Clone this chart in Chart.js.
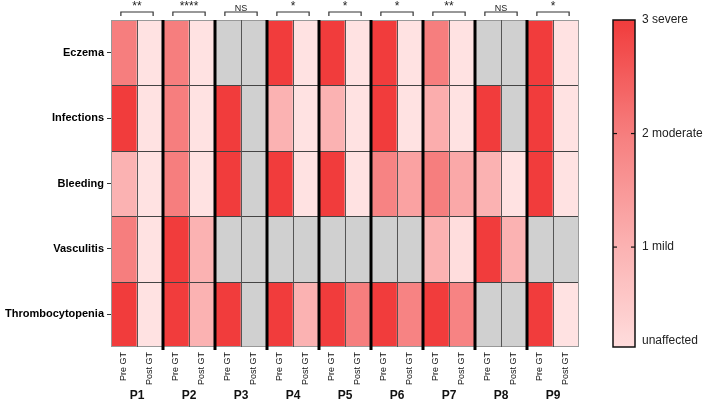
<!DOCTYPE html>
<html>
<head>
<meta charset="utf-8">
<script src="https://cdn.jsdelivr.net/npm/chart.js@4"></script>
<style>
  html, body { margin: 0; padding: 0; background: #fff; }
  canvas { display: block; }
</style>
</head>
<body>
<canvas id="heatmap" width="706" height="404"></canvas>
<script>
// rows = symptoms, columns = Pre/Post GT per patient
const symptoms = ['Eczema', 'Infections', 'Bleeding', 'Vasculitis', 'Thrombocytopenia'];
const patients = ['P1', 'P2', 'P3', 'P4', 'P5', 'P6', 'P7', 'P8', 'P9'];
const columnLabels = patients.flatMap(() => ['Pre GT', 'Post GT']);
const significance = ['**', '****', 'NS', '*', '*', '*', '**', 'NS', '*'];

// severity 0 = unaffected .. 3 = severe, null = not available (grey)
const eczema =           [2, 0, 2, 0, null, null, 3, 0, 3, 0, 3, 0, 2, 0, null, null, 3, 0];
const infections =       [3, 0, 2, 0, 3, null, 1, 0, 1, 0, 3, 0, 1.1, 0, 3, null, 3, 0];
const bleeding =         [1, 0, 2, 0, 3, null, 3, 0, 3, 0, 1.9, 1.3, 2, 1.2, 1, 0, 3, 0];
const vasculitis =       [2, 0, 3, 1, null, null, null, null, null, null, null, null, 1, 0.1, 3, 1, null, null];
const thrombocytopenia = [3, 0, 3, 1, 3, null, 3, 1, 3, 2, 3, 1.9, 3, 1.9, null, null, 3, 0];
const severityRows = [eczema, infections, bleeding, vasculitis, thrombocytopenia];

// colour bar ticks
const legendTicks = [0.18, 1, 2, 3];
const legendText = ['unaffected', '1 mild', '2 moderate', '3 severe'];
const legendMin = 0.12;
const legendMax = 3;

// colour stops for severity 0,1,2,3
const colorStops = [[255, 226, 226], [251, 178, 178], [246, 126, 126], [241, 60, 60]];
const naColor = '#d0d0d0';

function severityColor(v) {
  if (v === null) return naColor;
  const t = Math.max(0, Math.min(3, v));
  const i = Math.min(2, Math.floor(t));
  const f = t - i;
  const c = colorStops[i].map((lo, k) => Math.round(lo + (colorStops[i + 1][k] - lo) * f));
  return `rgb(${c.join(',')})`;
}

const FONT = "'Liberation Sans', Arial, sans-serif";

const heatmapDecor = {
  id: 'heatmapDecor',
  afterDatasetsDraw(chart) {
    const { ctx, chartArea: a, scales } = chart;
    const x = scales.x, y = scales.y, lg = scales.yLegend;
    const colW = x.getPixelForValue(1) - x.getPixelForValue(0);
    const seg = (x1, y1, x2, y2) => { ctx.beginPath(); ctx.moveTo(x1, y1); ctx.lineTo(x2, y2); ctx.stroke(); };
    ctx.save();

    // row separators
    ctx.strokeStyle = '#444';
    ctx.lineWidth = 1;
    for (let r = 1; r < symptoms.length; r++) {
      const py = Math.round(y.getPixelForValue(r)) + 0.5;
      seg(a.left, py, a.right, py);
    }
    // outer frame
    ctx.strokeStyle = '#999';
    ctx.strokeRect(a.left + 0.5, a.top + 0.5, a.right - a.left - 1, a.bottom - a.top - 1);
    // column separators, thick between patients
    for (let c = 1; c < columnLabels.length; c++) {
      const px = x.getPixelForValue(c) - colW / 2;
      if (c % 2 === 0) {
        ctx.strokeStyle = '#000';
        ctx.lineWidth = 3;
        seg(px, a.top, px, a.bottom + 3);
      } else {
        ctx.strokeStyle = '#555';
        ctx.lineWidth = 1;
        seg(Math.round(px) + 0.5, a.top, Math.round(px) + 0.5, a.bottom);
      }
    }

    // significance brackets
    ctx.strokeStyle = '#333';
    ctx.lineWidth = 1.2;
    patients.forEach((p, i) => {
      const cx = (x.getPixelForValue(2 * i) + x.getPixelForValue(2 * i + 1)) / 2;
      const half = colW * 0.62;
      const by = a.top - 8;
      ctx.beginPath();
      ctx.moveTo(cx - half, by + 4);
      ctx.lineTo(cx - half, by);
      ctx.lineTo(cx + half, by);
      ctx.lineTo(cx + half, by + 4);
      ctx.stroke();
    });

    // colour bar
    const bx = lg.left + 34, bw = 22;
    const yTop = lg.getPixelForValue(legendMax), yBot = lg.getPixelForValue(legendMin);
    const grad = ctx.createLinearGradient(0, yBot, 0, yTop);
    for (let s = 0; s <= 30; s++) {
      const v = legendMin + (legendMax - legendMin) * s / 30;
      grad.addColorStop(s / 30, severityColor(v));
    }
    ctx.fillStyle = grad;
    ctx.fillRect(bx, yTop, bw, yBot - yTop);
    ctx.strokeStyle = '#111';
    ctx.lineWidth = 1.5;
    ctx.strokeRect(bx, yTop, bw, yBot - yTop);
    ctx.lineWidth = 1.2;
    [1, 2].forEach(v => {
      const ty = lg.getPixelForValue(v);
      seg(bx, ty, bx + 4, ty);
      seg(bx + bw - 4, ty, bx + bw, ty);
    });
    ctx.restore();
  }
};

new Chart(document.getElementById('heatmap'), {
  type: 'bar',
  data: {
    labels: columnLabels,
    datasets: severityRows.map((vals, r) => ({
      label: symptoms[r],
      data: vals.map(() => [r, r + 1]),
      backgroundColor: vals.map(severityColor),
      borderWidth: 0,
      grouped: false,
      barPercentage: 1,
      categoryPercentage: 1
    }))
  },
  options: {
    responsive: false,
    animation: false,
    layout: { padding: 0 },
    plugins: {
      legend: { display: false },
      tooltip: { enabled: false }
    },
    scales: {
      x: {
        type: 'category',
        position: 'bottom',
        offset: true,
        grid: { display: false, drawTicks: false },
        border: { display: false },
        ticks: {
          autoSkip: false, minRotation: 90, maxRotation: 90, padding: 5,
          color: '#111', font: { family: FONT, size: 9 }
        },
        afterFit: s => { s.height = 41; }
      },
      xPatients: {
        type: 'category',
        position: 'bottom',
        weight: 1,
        labels: patients,
        offset: true,
        grid: { display: false, drawTicks: false },
        border: { display: false },
        ticks: { padding: 0, color: '#111', font: { family: FONT, size: 12, weight: 'bold' } },
        afterFit: s => { s.height = 16; }
      },
      xSig: {
        type: 'category',
        position: 'top',
        labels: significance,
        offset: true,
        grid: { display: false, drawTicks: false },
        border: { display: false },
        ticks: {
          padding: 6, color: '#222',
          font: ctx => ({ family: FONT, size: significance[ctx.index] === 'NS' ? 9 : 12 })
        },
        afterFit: s => { s.height = 20; }
      },
      y: {
        type: 'linear',
        min: 0,
        max: symptoms.length,
        reverse: true,
        afterBuildTicks: s => { s.ticks = symptoms.map((_, i) => ({ value: i + 0.5 })); },
        grid: { display: true, drawOnChartArea: false, tickLength: 4, color: '#333' },
        border: { display: false },
        ticks: {
          padding: 3, color: '#000', font: { family: FONT, size: 11, weight: 'bold' },
          callback: (v, i) => symptoms[i]
        },
        afterFit: s => { s.width = 111; }
      },
      yLegend: {
        type: 'linear',
        position: 'right',
        min: legendMin,
        max: legendMax,
        afterBuildTicks: s => { s.ticks = legendTicks.map(v => ({ value: v })); },
        // invisible tick length pushes the labels past the colour bar
        grid: { display: false, drawTicks: true, tickLength: 60 },
        border: { display: false },
        ticks: {
          padding: 3, color: '#222', font: { family: FONT, size: 12 },
          callback: (v, i) => legendText[i]
        },
        afterFit: s => { s.width = 127; }
      }
    }
  },
  plugins: [heatmapDecor]
});
</script>
</body>
</html>
